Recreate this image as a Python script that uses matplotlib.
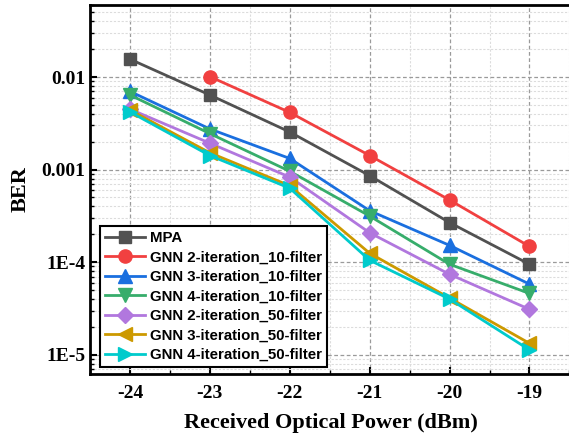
import numpy as np
import matplotlib
matplotlib.use("Agg")
import matplotlib.pyplot as plt
from matplotlib.ticker import FixedLocator, FixedFormatter, LogLocator, NullFormatter

plt.rcParams["axes.unicode_minus"] = False

# --- data ---
power = [-24, -23, -22, -21, -20, -19]

mpa       = [1.56e-2, 6.4e-3, 2.55e-3, 8.6e-4, 2.68e-4, 9.5e-5]
gnn2_10   = [None,    1.01e-2, 4.15e-3, 1.42e-3, 4.7e-4, 1.48e-4]
gnn3_10   = [7.0e-3,  2.75e-3, 1.32e-3, 3.6e-4, 1.52e-4, 5.8e-5]
gnn4_10   = [6.4e-3,  2.45e-3, 9.6e-4, 3.15e-4, 9.5e-5, 4.6e-5]
gnn2_50   = [4.5e-3,  1.93e-3, 8.3e-4, 2.08e-4, 7.4e-5, 3.1e-5]
gnn3_50   = [4.4e-3,  1.52e-3, 6.7e-4, 1.25e-4, 4.1e-5, 1.33e-5]
gnn4_50   = [4.2e-3,  1.42e-3, 6.3e-4, 1.05e-4, 4.0e-5, 1.13e-5]

labels = ["MPA",
          "GNN 2-iteration_10-filter",
          "GNN 3-iteration_10-filter",
          "GNN 4-iteration_10-filter",
          "GNN 2-iteration_50-filter",
          "GNN 3-iteration_50-filter",
          "GNN 4-iteration_50-filter"]
series = [mpa, gnn2_10, gnn3_10, gnn4_10, gnn2_50, gnn3_50, gnn4_50]
colors = ["#515151", "#F14040", "#1A6FDF", "#37AD6B", "#B177DE", "#CC9900", "#00CBCC"]
markers = ["s", "o", "^", "v", "D", "<", ">"]
msizes = [8.5, 9.5, 10, 10, 8.5, 10, 10]

yticks = [1e-5, 1e-4, 1e-3, 1e-2]
yticklabels = ["1E-5", "1E-4", "0.001", "0.01"]

serif = ["Liberation Serif", "DejaVu Serif"]
sans = ["Liberation Sans", "DejaVu Sans"]

fig = plt.figure(figsize=(5.69, 4.44), dpi=100)
ax = fig.add_axes([90/569, 70/444, 481/569, 369/444])

for ys, lab, c, m, ms in zip(series, labels, colors, markers, msizes):
    xs = [x for x, y in zip(power, ys) if y is not None]
    yv = [y for y in ys if y is not None]
    ax.plot(xs, yv, color=c, marker=m, markersize=ms, linewidth=2.0,
            label=lab, zorder=3)

ax.set_yscale("log")
ax.set_xlim(-24.5, -18.48)
ax.set_ylim(6.2e-6, 0.06)

ax.xaxis.set_major_locator(FixedLocator(power))
ax.xaxis.set_minor_locator(FixedLocator(np.arange(-24.5, -18.4, 1.0)))
ax.yaxis.set_major_locator(FixedLocator(yticks))
ax.yaxis.set_major_formatter(FixedFormatter(yticklabels))
ax.yaxis.set_minor_locator(LogLocator(base=10, subs=np.arange(2, 10), numticks=20))
ax.yaxis.set_minor_formatter(NullFormatter())

ax.grid(True, which="major", color="#9a9a9a", linestyle=(0, (3, 2)), linewidth=0.9, zorder=0)
ax.grid(True, which="minor", color="#dcdcdc", linestyle=(0, (2, 1.5)), linewidth=0.8, zorder=0)
ax.set_axisbelow(True)

ax.tick_params(which="major", direction="in", length=5, width=1.5)
ax.tick_params(which="minor", direction="in", length=3, width=1.0)
for lab in ax.get_xticklabels() + ax.get_yticklabels():
    lab.set_fontfamily(serif)
    lab.set_fontweight("bold")
    lab.set_fontsize(14)
ax.tick_params(axis="x", pad=8)

for sp in ax.spines.values():
    sp.set_linewidth(2.0)

ax.set_xlabel("Received Optical Power (dBm)", fontfamily=serif, fontweight="bold",
              fontsize=16, labelpad=8)
ax.set_ylabel("BER", fontfamily=serif, fontweight="bold", fontsize=16, labelpad=8)

leg = ax.legend(loc="lower left", bbox_to_anchor=(0.02, 0.018), borderaxespad=0,
                prop={"family": sans, "weight": "bold", "size": 10.8},
                handlelength=2.7, handletextpad=0.3, labelspacing=0.37,
                borderpad=0.35, fancybox=False, framealpha=1, edgecolor="black")
leg.get_frame().set_linewidth(1.5)

fig.savefig("out.png", dpi=100)
